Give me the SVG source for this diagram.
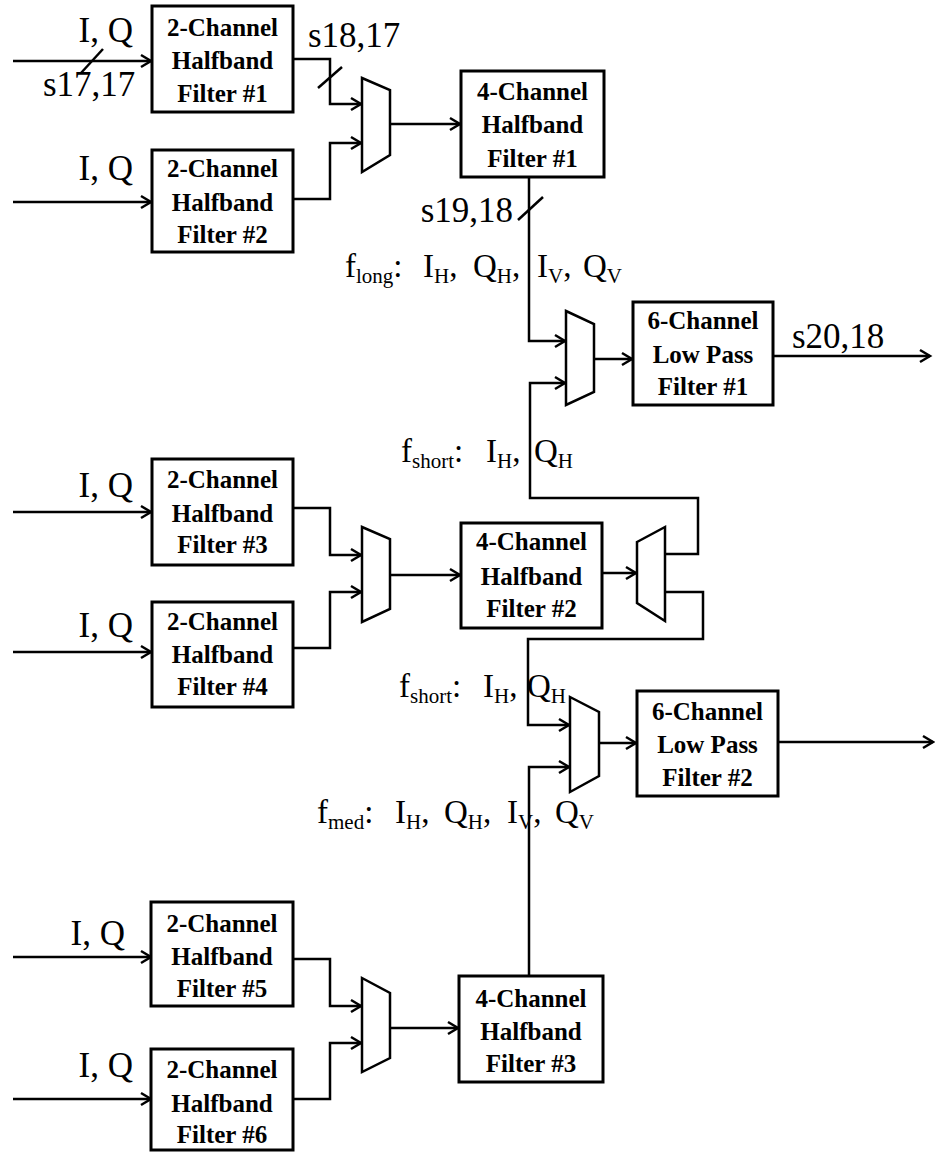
<svg xmlns="http://www.w3.org/2000/svg" width="935" height="1154" viewBox="0 0 935 1154">
<defs>
<marker id="arr" markerWidth="16" markerHeight="16" refX="13" refY="8" orient="auto" markerUnits="userSpaceOnUse">
<path d="M3,2 L13,8 L3,14" fill="none" stroke="#000" stroke-width="2.5"/>
</marker>
</defs>
<style>
.box{fill:#fff;stroke:#000;stroke-width:3}
.mux{fill:#fff;stroke:#000;stroke-width:2.5;stroke-linejoin:miter}
.bt{font-family:"Liberation Serif","Times New Roman",serif;font-weight:bold;font-size:25px;text-anchor:middle;fill:#000}
.lbl{font-family:"Liberation Serif","Times New Roman",serif;font-size:35px;fill:#000}
.fl{font-family:"Liberation Serif","Times New Roman",serif;font-size:33px;fill:#000}
.sub{font-size:21px}
.c{fill:none;stroke:#000;stroke-width:2.5}
.ca{fill:none;stroke:#000;stroke-width:2.5;marker-end:url(#arr)}
</style>
<rect width="935" height="1154" fill="#fff"/>

<g id="connectors">
<path class="ca" d="M13,61 H151"/>
<path class="ca" d="M13,202 H151"/>
<path class="ca" d="M13,512 H151"/>
<path class="ca" d="M13,652 H151"/>
<path class="ca" d="M13,957 H151"/>
<path class="ca" d="M13,1099 H151"/>
<path class="ca" d="M293,59 H330 V104 H361"/>
<path class="ca" d="M293,199 H330 V143 H361"/>
<path class="ca" d="M390,124 H460"/>
<path class="ca" d="M529,177 V341 H565"/>
<path class="ca" d="M665,554 H698 V498 H530 V383 H565"/>
<path class="ca" d="M293,508 H330 V555 H361"/>
<path class="ca" d="M293,648 H330 V592 H361"/>
<path class="ca" d="M390,575 H460"/>
<path class="ca" d="M602,573 H636"/>
<path class="ca" d="M665,592 H703 V639 H528 V725 H569"/>
<path class="ca" d="M529,976 V767 H569"/>
<path class="ca" d="M599,743 H636"/>
<path class="ca" d="M594,359 H632"/>
<path class="ca" d="M773,356 H930"/>
<path class="ca" d="M778,742 H933"/>
<path class="ca" d="M293,959 H330 V1006 H361"/>
<path class="ca" d="M293,1099 H330 V1043 H361"/>
<path class="ca" d="M390,1028 H458"/>
<path class="c" d="M81,73 L103,49"/>
<path class="c" d="M318,88 L342,67"/>
<path class="c" d="M518,220 L543,197"/>
</g>

<g id="labels">
<text class="lbl" x="133" y="42" text-anchor="end">I, Q</text>
<text class="lbl" x="133" y="180" text-anchor="end">I, Q</text>
<text class="lbl" x="133" y="497" text-anchor="end">I, Q</text>
<text class="lbl" x="133" y="637" text-anchor="end">I, Q</text>
<text class="lbl" x="125" y="945" text-anchor="end">I, Q</text>
<text class="lbl" x="133" y="1077" text-anchor="end">I, Q</text>
<text class="lbl" x="43" y="96">s17,17</text>
<text class="lbl" x="308" y="47">s18,17</text>
<text class="lbl" x="513" y="222" text-anchor="end">s19,18</text>
<text class="lbl" x="792" y="348">s20,18</text>
<text class="fl" y="277"><tspan x="345">f</tspan><tspan class="sub" dy="6">long</tspan><tspan dy="-6">:</tspan><tspan x="423">I</tspan><tspan class="sub" dy="6">H</tspan><tspan dy="-6">,</tspan><tspan x="473">Q</tspan><tspan class="sub" dy="6">H</tspan><tspan dy="-6">,</tspan><tspan x="537">I</tspan><tspan class="sub" dy="6">V</tspan><tspan dy="-6">,</tspan><tspan x="583">Q</tspan><tspan class="sub" dy="6">V</tspan></text>
<text class="fl" y="462"><tspan x="401">f</tspan><tspan class="sub" dy="6">short</tspan><tspan dy="-6">:</tspan><tspan x="486">I</tspan><tspan class="sub" dy="6">H</tspan><tspan dy="-6">,</tspan><tspan x="534">Q</tspan><tspan class="sub" dy="6">H</tspan></text>
<text class="fl" y="697"><tspan x="399">f</tspan><tspan class="sub" dy="6">short</tspan><tspan dy="-6">:</tspan><tspan x="483">I</tspan><tspan class="sub" dy="6">H</tspan><tspan dy="-6">,</tspan><tspan x="527">Q</tspan><tspan class="sub" dy="6">H</tspan></text>
<text class="fl" y="823"><tspan x="317">f</tspan><tspan class="sub" dy="6">med</tspan><tspan dy="-6">:</tspan><tspan x="395">I</tspan><tspan class="sub" dy="6">H</tspan><tspan dy="-6">,</tspan><tspan x="444">Q</tspan><tspan class="sub" dy="6">H</tspan><tspan dy="-6">,</tspan><tspan x="507">I</tspan><tspan class="sub" dy="6">V</tspan><tspan dy="-6">,</tspan><tspan x="555">Q</tspan><tspan class="sub" dy="6">V</tspan></text>
</g>

<g id="hb2_1"><rect class="box" x="152" y="6" width="141" height="106"/><text class="bt" x="222.5" y="36">2-Channel</text><text class="bt" x="222.5" y="69">Halfband</text><text class="bt" x="222.5" y="102">Filter #1</text></g>
<g id="hb2_2"><rect class="box" x="152" y="150" width="141" height="102"/><text class="bt" x="222.5" y="177">2-Channel</text><text class="bt" x="222.5" y="211">Halfband</text><text class="bt" x="222.5" y="243">Filter #2</text></g>
<g id="hb2_3"><rect class="box" x="152" y="459" width="141" height="106"/><text class="bt" x="222.5" y="488">2-Channel</text><text class="bt" x="222.5" y="522">Halfband</text><text class="bt" x="222.5" y="553">Filter #3</text></g>
<g id="hb2_4"><rect class="box" x="152" y="602" width="141" height="105"/><text class="bt" x="222.5" y="630">2-Channel</text><text class="bt" x="222.5" y="663">Halfband</text><text class="bt" x="222.5" y="695">Filter #4</text></g>
<g id="hb2_5"><rect class="box" x="151" y="902" width="142" height="104"/><text class="bt" x="222" y="932">2-Channel</text><text class="bt" x="222" y="965">Halfband</text><text class="bt" x="222" y="997">Filter #5</text></g>
<g id="hb2_6"><rect class="box" x="151" y="1049" width="142" height="101"/><text class="bt" x="222" y="1078">2-Channel</text><text class="bt" x="222" y="1112">Halfband</text><text class="bt" x="222" y="1143">Filter #6</text></g>
<g id="hb4_1"><rect class="box" x="461" y="71" width="143" height="106"/><text class="bt" x="532.5" y="100">4-Channel</text><text class="bt" x="532.5" y="133">Halfband</text><text class="bt" x="532.5" y="167">Filter #1</text></g>
<g id="hb4_2"><rect class="box" x="461" y="523" width="141" height="105"/><text class="bt" x="531.5" y="550">4-Channel</text><text class="bt" x="531.5" y="585">Halfband</text><text class="bt" x="531.5" y="617">Filter #2</text></g>
<g id="hb4_3"><rect class="box" x="459" y="976" width="144" height="106"/><text class="bt" x="531" y="1007">4-Channel</text><text class="bt" x="531" y="1040">Halfband</text><text class="bt" x="531" y="1072">Filter #3</text></g>
<g id="lp6_1"><rect class="box" x="633" y="302" width="140" height="103"/><text class="bt" x="703" y="329">6-Channel</text><text class="bt" x="703" y="363">Low Pass</text><text class="bt" x="703" y="395">Filter #1</text></g>
<g id="lp6_2"><rect class="box" x="637" y="691" width="141" height="105"/><text class="bt" x="707.5" y="720">6-Channel</text><text class="bt" x="707.5" y="753">Low Pass</text><text class="bt" x="707.5" y="786">Filter #2</text></g>

<g id="mux1"><polygon class="mux" points="362,78 390,90 390,155 362,172"/></g>
<g id="mux3"><polygon class="mux" points="362,527 390,539 390,609 362,622"/></g>
<g id="mux5"><polygon class="mux" points="362,978 390,993 390,1058 362,1072"/></g>
<g id="mux2"><polygon class="mux" points="566,311 594,324 594,392 566,405"/></g>
<g id="mux4"><polygon class="mux" points="570,697 599,712 599,776 570,792"/></g>
<g id="demux"><polygon class="mux" points="637,542 665,527 665,621 637,603"/></g>
</svg>
